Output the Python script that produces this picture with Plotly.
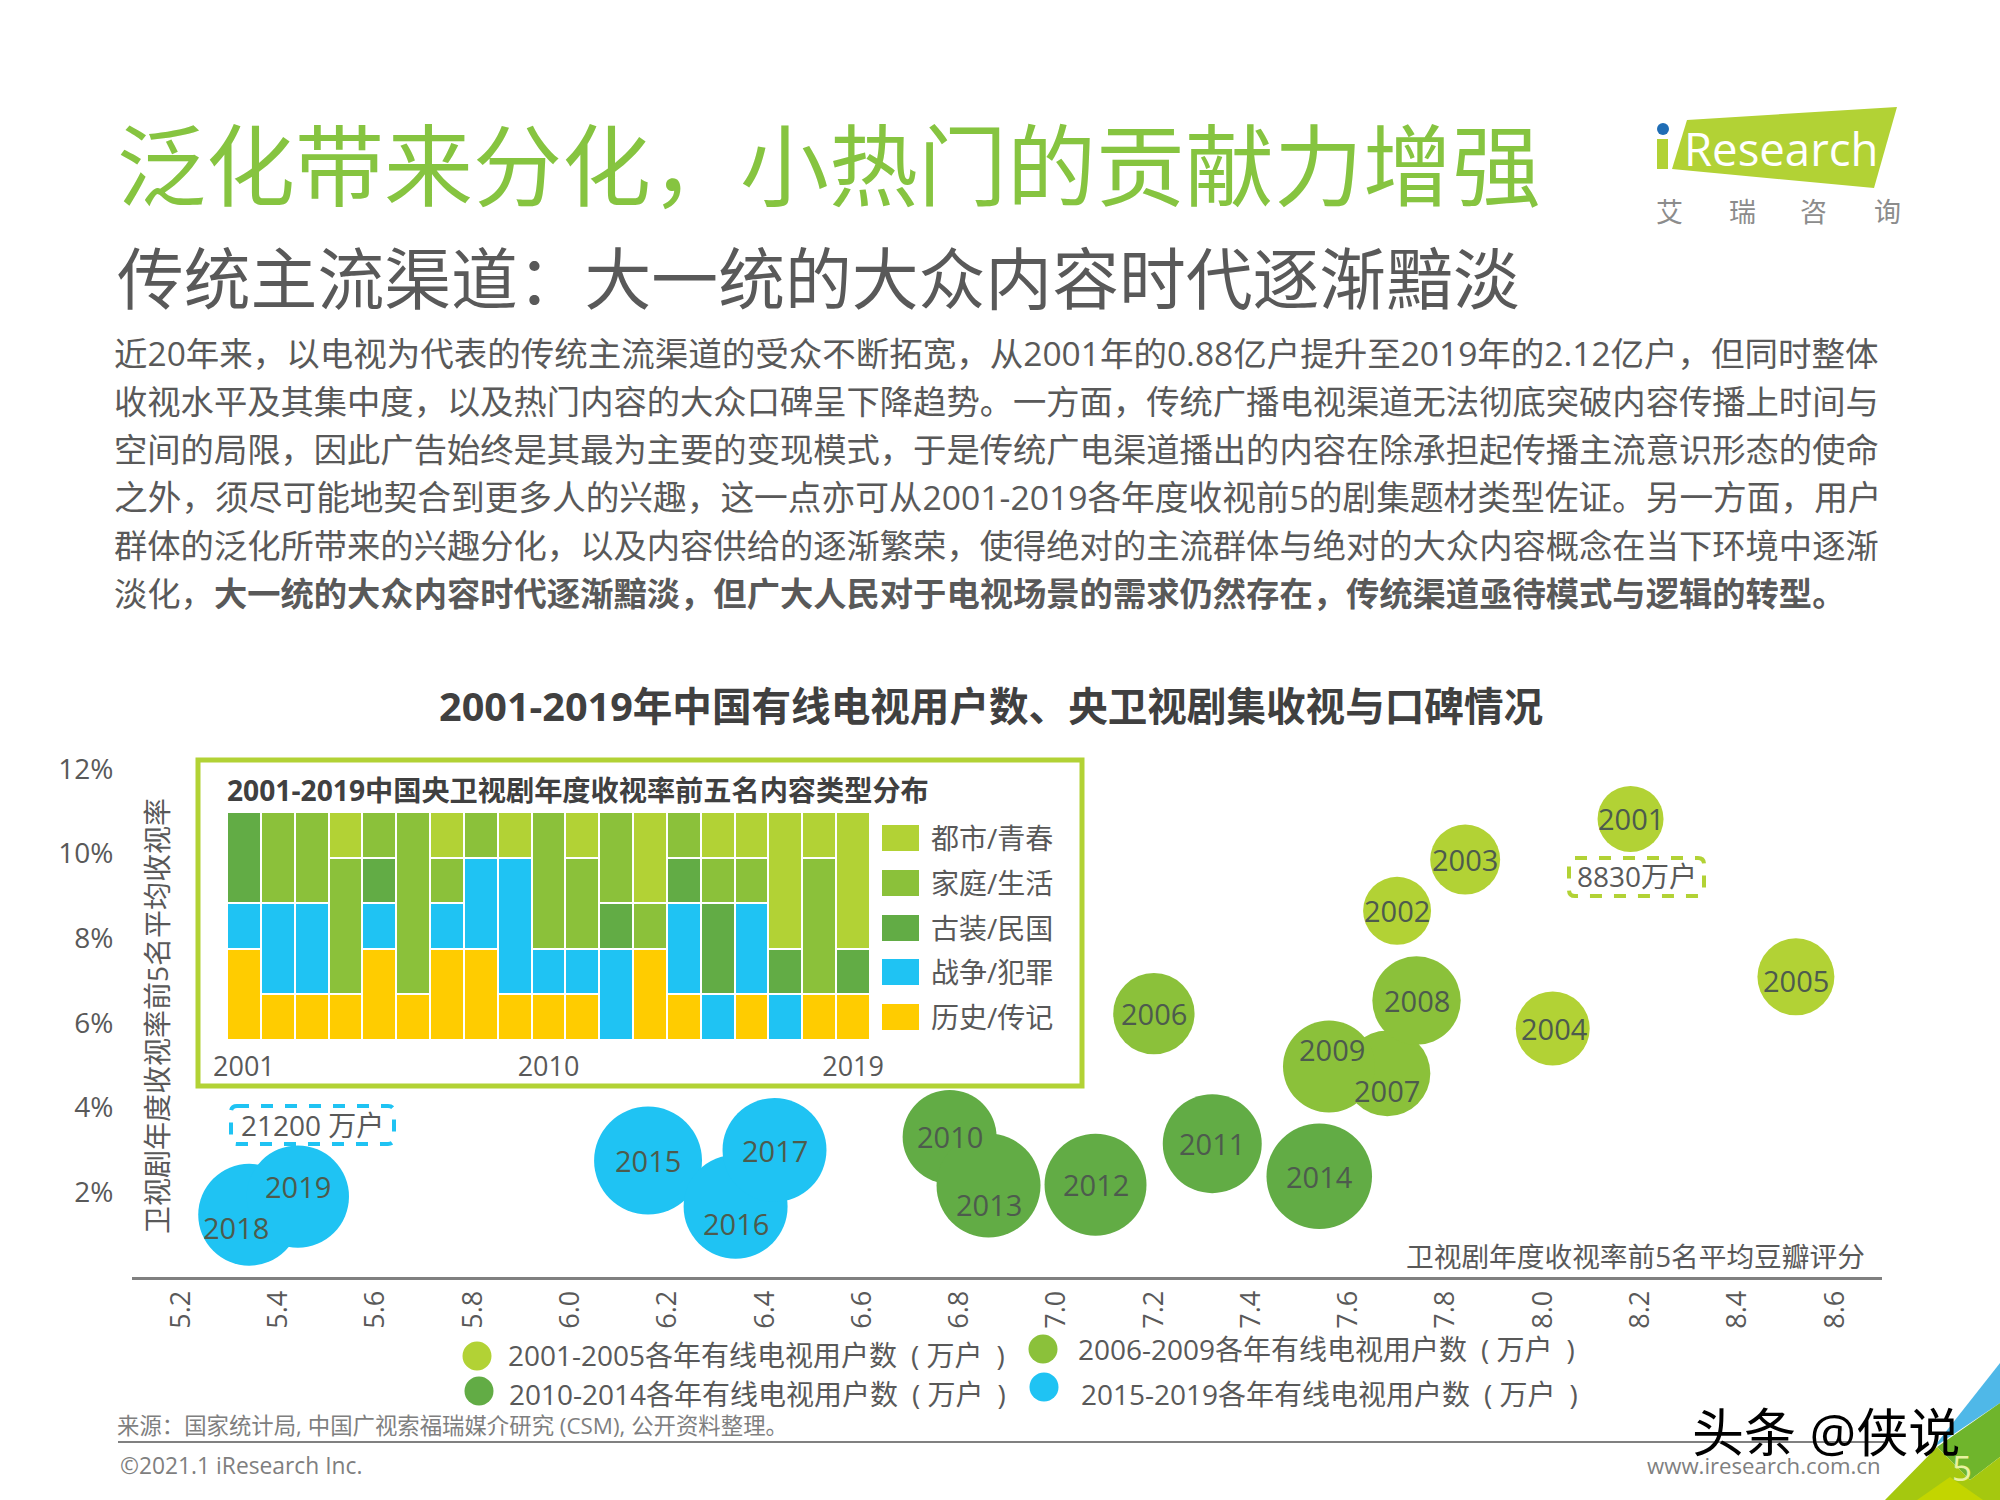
import plotly.graph_objects as go

FONT = "'Open Sans','Noto Sans CJK SC',sans-serif"
GRAY = '#595959'
LIME = '#B2D235'
GREEN = '#8BC13A'
DARK_GREEN = '#62AC45'
BLUE = '#1FC3F3'
YELLOW = '#FFCC00'

# bubble chart: douban score, average rating, cable tv users (10k households)
years = list(range(2001, 2020))
douban = [8.18, 7.70, 7.84, 8.02, 8.52, 7.20, 7.68, 7.74, 7.56, 6.78,
          7.32, 7.08, 6.86, 7.54, 6.16, 6.34, 6.42, 5.34, 5.44]
rating = [10.82, 8.65, 9.86, 5.87, 7.09, 6.22, 4.81, 6.53, 4.97, 3.31,
          3.15, 2.18, 2.16, 2.38, 2.75, 1.66, 3.00, 1.47, 1.90]
users = [8830, 9360, 9920, 11090, 12010, 13420, 14980, 15830, 17140, 17890,
         19850, 21070, 21900, 22580, 23620, 21900, 21900, 21070, 21200]

# inset: how many of the top five shows fall in each genre, per year
genre_names = ['历史/传记', '战争/犯罪', '古装/民国', '家庭/生活', '都市/青春']
history = [2, 1, 1, 1, 2, 1, 2, 2, 1, 1, 1, 0, 2, 1, 0, 1, 0, 1, 1]
war = [1, 2, 2, 0, 1, 0, 1, 2, 3, 1, 1, 2, 0, 2, 1, 2, 1, 0, 0]
costume = [2, 0, 0, 0, 1, 0, 0, 0, 0, 0, 0, 1, 0, 1, 2, 0, 1, 0, 1]
family = [0, 2, 2, 3, 1, 4, 1, 1, 0, 3, 2, 2, 1, 1, 1, 1, 0, 3, 0]
urban = [0, 0, 0, 1, 0, 0, 1, 0, 1, 0, 1, 0, 2, 0, 1, 1, 3, 1, 3]

x_ticks = ['5.2', '5.4', '5.6', '5.8', '6.0', '6.2', '6.4', '6.6', '6.8',
           '7.0', '7.2', '7.4', '7.6', '7.8', '8.0', '8.2', '8.4', '8.6']
y_ticks = ['2%', '4%', '6%', '8%', '10%', '12%']

body_lines = [
    '近20年来，以电视为代表的传统主流渠道的受众不断拓宽，从2001年的0.88亿户提升至2019年的2.12亿户，但同时整体',
    '收视水平及其集中度，以及热门内容的大众口碑呈下降趋势。一方面，传统广播电视渠道无法彻底突破内容传播上时间与',
    '空间的局限，因此广告始终是其最为主要的变现模式，于是传统广电渠道播出的内容在除承担起传播主流意识形态的使命',
    '之外，须尽可能地契合到更多人的兴趣，这一点亦可从2001-2019各年度收视前5的剧集题材类型佐证。另一方面，用户',
    '群体的泛化所带来的兴趣分化，以及内容供给的逐渐繁荣，使得绝对的主流群体与绝对的大众内容概念在当下环境中逐渐',
    '淡化，<b>大一统的大众内容时代逐渐黯淡，但广大人民对于电视场景的需求仍然存在，传统渠道亟待模式与逻辑的转型。</b>',
]
# the slide justifies these lines, so each one gets its own size
body_sizes = [33.5, 33.3, 33.3, 33.7, 33.3, 33.3]


def px(x):
    return x / 2000


def py(y):
    return 1 - y / 1500


def txt(x, y, text, size, color=GRAY, anchor='left', angle=0):
    return dict(x=px(x), y=py(y), xref='paper', yref='paper', text=text, showarrow=False,
                xanchor=anchor, yanchor='middle', textangle=angle,
                font=dict(family=FONT, size=size, color=color))


def rect(x0, y0, x1, y1, fill, line=None, width=0, layer='above'):
    return dict(type='rect', xref='paper', yref='paper', x0=px(x0), x1=px(x1), y0=py(y0), y1=py(y1),
                fillcolor=fill, line=dict(color=line, width=width), layer=layer)


def poly(points, fill):
    path = 'M ' + ' L '.join(f'{px(a):.5f},{py(b):.5f}' for a, b in points) + ' Z'
    return dict(type='path', xref='paper', yref='paper', path=path, fillcolor=fill, line=dict(width=0))


def dot(cx, cy, r, fill):
    return dict(type='circle', xref='paper', yref='paper', x0=px(cx - r), x1=px(cx + r),
                y0=py(cy - r), y1=py(cy + r), fillcolor=fill, line=dict(width=0))


def dashed_box(x0, y0, x1, y1, color):
    # rounded corners, same as the callouts in the slide
    r = 6
    pts = [(x0 + r, y0), (x1 - r, y0), (x1, y0), (x1, y0 + r), (x1, y1 - r), (x1, y1), (x1 - r, y1),
           (x0 + r, y1), (x0, y1), (x0, y1 - r), (x0, y0 + r), (x0, y0), (x0 + r, y0)]
    p = [f'{px(a):.5f},{py(b):.5f}' for a, b in pts]
    path = (f'M {p[0]} L {p[1]} Q {p[2]} {p[3]} L {p[4]} Q {p[5]} {p[6]} L {p[7]} '
            f'Q {p[8]} {p[9]} L {p[10]} Q {p[11]} {p[12]} Z')
    return dict(type='path', xref='paper', yref='paper', path=path,
                line=dict(color=color, width=4, dash='dash'), fillcolor='rgba(0,0,0,0)')


fig = go.Figure()

# ==========================================
# BUBBLES
# ==========================================
unit = '\u2002( 万户\u2002)'
groups = [
    ('2001-2005各年有线电视用户数' + unit, 0, 5, LIME),
    ('2006-2009各年有线电视用户数' + unit, 5, 9, GREEN),
    ('2010-2014各年有线电视用户数' + unit, 9, 14, DARK_GREEN),
    ('2015-2019各年有线电视用户数' + unit, 14, 19, BLUE),
]
for name, a, b, color in groups:
    fig.add_trace(go.Scatter(
        x=douban[a:b], y=rating[a:b], mode='markers', name=name, cliponaxis=False,
        marker=dict(size=users[a:b], sizemode='area', sizeref=4.054, color=color, opacity=1, line=dict(width=0)),
        customdata=years[a:b],
        hovertemplate='%{customdata}<br>豆瓣: %{x}<br>收视率: %{y}%<extra></extra>',
    ))

# ==========================================
# INSET STACKED BARS
# ==========================================
for name, vals, color in zip(genre_names, [history, war, costume, family, urban],
                             [YELLOW, BLUE, DARK_GREEN, GREEN, LIME]):
    fig.add_trace(go.Bar(x=years, y=vals, name=name, xaxis='x2', yaxis='y2',
                         marker=dict(color=color, line=dict(color='white', width=2.5))))

annotations = [
    txt(115, 165, '泛化带来分化，小热门的贡献力增强', 89, '#86C440'),
    txt(115, 278, '传统主流渠道：大一统的大众内容时代逐渐黯淡', 66.8),
    txt(991, 706, '<b>2001-2019年中国有线电视用户数、央卫视剧集收视与口碑情况</b>', 39.6, '#404040', 'center'),
    txt(225, 790, '<b>2001-2019中国央卫视剧年度收视率前五名内容类型分布</b>', 28.2, '#404040'),
    txt(157, 1016, '卫视剧年度收视率前5名平均收视率', 28, GRAY, 'center', -90),
    txt(1867, 1256, '卫视剧年度收视率前5名平均豆瓣评分', 27.7, GRAY, 'right'),
    txt(1637, 876, '8830万户', 28, GRAY, 'center'),
    txt(312, 1125, '21200 万户', 28, GRAY, 'center'),
    txt(115, 1425, '来源：国家统计局, 中国广视索福瑞媒介研究 (CSM), 公开资料整理。', 22.4, '#7F7F7F'),
    txt(118, 1465, '©2021.1 iResearch Inc.', 22.8, '#7F7F7F'),
    txt(1883, 1465, 'www.iresearch.com.cn', 22.2, '#7F7F7F', 'right'),
    txt(1690, 1431, '头条 @侠说', 52, '#000000'),
    txt(1962, 1467, '5', 35, '#E8F2A0', 'center'),
    txt(1682, 148, 'Research', 45.5, '#FFFFFF'),
]

for i, (line, size) in enumerate(zip(body_lines, body_sizes)):
    annotations.append(txt(112, 353 + i * 48, line, size))

for label, cx in [('艾', 1669), ('瑞', 1742), ('咨', 1813), ('询', 1887)]:
    annotations.append(txt(cx, 212, label, 27, '#8C8C8C', 'center'))

# year labels sit in the bubbles, a few are pushed off centre where bubbles overlap
label_shift = {2004: (2, 0), 2005: (0, 4), 2007: (0, 17), 2009: (3, -17), 2013: (0, 19),
               2016: (0, 17), 2018: (-13, 13), 2019: (0, -10)}
for yr, xv, yv in zip(years, douban, rating):
    dx, dy = label_shift.get(yr, (0, 0))
    annotations.append(dict(x=xv, y=yv, xref='x', yref='y', text=str(yr), showarrow=False,
                            xshift=dx, yshift=-dy, font=dict(family=FONT, size=29, color='#4D5B4D')))

# inset legend, top down
swatches = [(LIME, '都市/青春', 838), (GREEN, '家庭/生活', 883), (DARK_GREEN, '古装/民国', 928),
            (BLUE, '战争/犯罪', 972), (YELLOW, '历史/传记', 1017)]
shapes = [rect(198, 760, 1082, 1086, 'white', LIME, 5, layer='below')]
for color, label, yc in swatches:
    shapes.append(rect(882, yc - 13, 919, yc + 13, color))
    annotations.append(txt(929, yc, label, 28))

# bottom legend
bottom_legend = [(477, 1356, 506, 1355, groups[0]), (1043, 1349, 1076, 1349, groups[1]),
                 (479, 1391, 507, 1394, groups[2]), (1044, 1387, 1079, 1394, groups[3])]
for cx, cy, tx, ty, g in bottom_legend:
    shapes.append(dot(cx, cy, 14.5, g[3]))
    annotations.append(txt(tx, ty, g[0], 28))

shapes += [
    dashed_box(1569, 858, 1704, 896, LIME),
    dashed_box(231, 1106, 394, 1144, BLUE),
    dict(type='line', xref='paper', yref='paper', x0=px(118), x1=px(1884), y0=py(1442), y1=py(1442),
         line=dict(color='#808080', width=2)),
    # logo
    poly([(1687, 120), (1897, 107), (1874, 188), (1672, 169)], LIME),
    rect(1657, 139, 1668, 169, LIME),
    dot(1663, 129, 6, '#1F6DB5'),
    # corner of the slide
    poly([(2000, 1363), (1933, 1448), (2000, 1403)], '#4FB8E8'),
    poly([(2000, 1403), (1937, 1447), (1970, 1480), (2000, 1457)], '#6FB52C'),
    poly([(1937, 1447), (1885, 1500), (2000, 1500), (2000, 1457), (1970, 1480)], '#A5C80F'),
    poly([(1917, 1500), (1950, 1477), (1983, 1500)], '#C3D500'),
]

fig.update_layout(
    width=2000, height=1500,
    margin=dict(l=0, r=0, t=0, b=0),
    paper_bgcolor='white', plot_bgcolor='rgba(0,0,0,0)',
    showlegend=False, barmode='stack', bargap=0,
    font=dict(family=FONT, color=GRAY),
    annotations=annotations, shapes=shapes,
    xaxis=dict(domain=[px(132), px(1882)], range=[5.099, 8.697], automargin=False,
               tickvals=[float(t) for t in x_ticks], ticktext=x_ticks, tickangle=-90,
               tickfont=dict(size=27, family=FONT, color=GRAY), showgrid=False, zeroline=False,
               showline=True, linecolor='#808080', linewidth=3, ticks=''),
    yaxis=dict(domain=[py(1277), py(769)], range=[0, 12], automargin=False,
               tickvals=[float(t[:-1]) for t in y_ticks], ticktext=y_ticks,
               tickfont=dict(size=28, family=FONT, color=GRAY), showgrid=False, zeroline=False, showline=False,
               ticks='outside', ticklen=12, tickcolor='rgba(0,0,0,0)'),
    xaxis2=dict(domain=[px(227), px(870)], range=[2000.5, 2019.5], anchor='y2', automargin=False,
                tickvals=[2001, 2010, 2019],
                tickfont=dict(size=27, family=FONT, color=GRAY), showgrid=False, zeroline=False,
                ticks='outside', ticklen=3, tickcolor='rgba(0,0,0,0)'),
    yaxis2=dict(domain=[py(1040), py(812)], range=[0, 5], anchor='x2', visible=False),
)

fig.write_html("out.html", config={'displayModeBar': False}, post_script="document.body.style.margin='0';")
